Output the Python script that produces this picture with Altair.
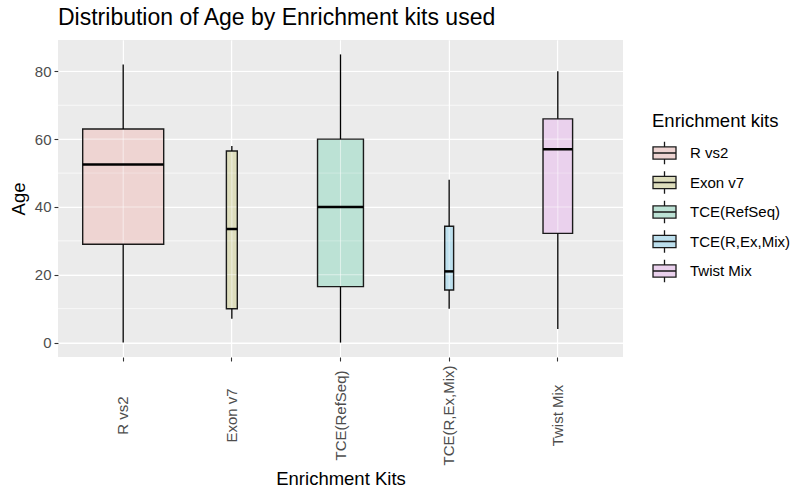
import altair as alt
import pandas as pd

# ---- data ----
kits = ["R vs2", "Exon v7", "TCE(RefSeq)", "TCE(R,Ex,Mix)", "Twist Mix"]
age_min = [0, 7, 0, 10, 4]
age_q1 = [29, 10, 16.5, 15.5, 32.2]
age_median = [52.5, 33.5, 40, 21, 57]
age_q3 = [63, 56.5, 60, 34.3, 66]
age_max = [82, 58, 85, 48, 80]
n_samples = [330, 6, 106, 4, 44]          # box widths ~ sqrt(n) (varwidth)
# ggplot hues #F8766D #A3A500 #00BF7D #00B0F6 #E76BF3 at 20 % alpha on grey92
fill_palette = ["#EED4D2", "#DDDDBC", "#BCE2D5", "#BCDFED", "#EAD1ED"]
major_breaks = [0, 20, 40, 60, 80]
minor_breaks = [10, 30, 50, 70]

df = pd.DataFrame({
    "kit": kits, "lo": age_min, "q1": age_q1, "med": age_median,
    "q3": age_q3, "hi": age_max, "n": n_samples,
})
minor_df = pd.DataFrame({"v": minor_breaks})
major_df = pd.DataFrame({"v": major_breaks})

FONT = "Liberation Sans"
DARK = "#1A1A1A"

x_scale = alt.Scale(domain=kits, paddingInner=0, paddingOuter=0.1)
y_scale = alt.Scale(domain=[-4.25, 89.25], nice=False, zero=False)
size_scale = alt.Scale(type="sqrt", domain=[0, max(n_samples)], range=[0, 81])

x_axis = alt.Axis(
    title="Enrichment Kits", labelAngle=270, labelAlign="center",
    labelBaseline="middle", labelPadding=54, tickSize=4, tickColor="#333333",
    tickWidth=1.1, domain=False, grid=True, gridColor="white", gridWidth=1.1,
    bandPosition=0.5, labelColor="#4D4D4D", labelFontSize=15, labelFont=FONT,
    titleFont=FONT, titleFontSize=18.5, titleColor="black",
    titleFontWeight="normal", titleY=127, titleBaseline="alphabetic",
    labelOverlap=False,
)
y_axis = alt.Axis(
    title="Age", values=major_breaks, tickSize=4, tickColor="#333333",
    tickWidth=1.1, domain=False, grid=True, gridColor="white", gridWidth=1.1,
    labelColor="#4D4D4D", labelFontSize=15, labelFont=FONT, labelPadding=3,
    titleFont=FONT, titleFontSize=18.5, titleColor="black",
    titleFontWeight="normal", titleX=-34, titleBaseline="alphabetic",
)

X = alt.X("kit:N", sort=kits, scale=x_scale, axis=x_axis)
SIZE = alt.Size("n:Q", scale=size_scale, legend=None)

box_path = ("M-1,-0.53H1V0.53H-1Z M-1,0H1 "
            "M0,-0.53V-0.98 M0,0.53V0.98")

minor_grid = alt.Chart(minor_df).mark_rule(color="white", strokeWidth=0.55).encode(
    y=alt.Y("v:Q", scale=y_scale, axis=y_axis)
)

base = alt.Chart(df)

box_fill = base.mark_bar(strokeWidth=0).encode(
    x=X,
    y=alt.Y("q1:Q", scale=y_scale, axis=y_axis),
    y2="q3:Q",
    size=SIZE,
    color=alt.Color(
        "kit:N", sort=kits, scale=alt.Scale(domain=kits, range=fill_palette),
        legend=alt.Legend(
            title="Enrichment kits", orient="none", legendX=594, legendY=72,
            symbolType=box_path, symbolSize=529, symbolStrokeColor=DARK,
            symbolStrokeWidth=1.3, symbolOpacity=1, labelOffset=13,
            rowPadding=0.5, titlePadding=10, titleFontSize=18.5,
            labelFontSize=15, titleFont=FONT, labelFont=FONT,
            titleColor="black", labelColor="black",
            titleFontWeight="normal", padding=0,
        ),
    ),
)

# grid lines seen through the translucent boxes
grid_h_major = alt.Chart(major_df).mark_rule(
    color="white", strokeWidth=1.1, opacity=0.5
).encode(y=alt.Y("v:Q", scale=y_scale, axis=y_axis))
grid_h_minor = alt.Chart(minor_df).mark_rule(
    color="white", strokeWidth=0.55, opacity=0.5
).encode(y=alt.Y("v:Q", scale=y_scale, axis=y_axis))
grid_v = base.mark_rule(color="white", strokeWidth=1.1, opacity=0.5).encode(x=X)

box_outline = base.mark_bar(fillOpacity=0, stroke=DARK, strokeWidth=1.4).encode(
    x=X,
    y=alt.Y("q1:Q", scale=y_scale, axis=y_axis),
    y2="q3:Q",
    size=SIZE,
)

whisker_lo = base.mark_rule(color="black", strokeWidth=1.3).encode(
    x=X, y=alt.Y("lo:Q", scale=y_scale, axis=y_axis), y2="q1:Q"
)
whisker_hi = base.mark_rule(color="black", strokeWidth=1.3).encode(
    x=X, y=alt.Y("q3:Q", scale=y_scale, axis=y_axis), y2="hi:Q"
)

medians = base.mark_tick(color="black", thickness=2.5, opacity=1).encode(
    x=X,
    y=alt.Y("med:Q", scale=y_scale, axis=y_axis),
    size=SIZE,
)

chart = alt.layer(
    minor_grid, box_fill, grid_h_major, grid_h_minor, grid_v,
    box_outline, whisker_lo, whisker_hi, medians
).properties(
    width=565, height=317,
    padding={"left": 58, "top": 40, "right": 167, "bottom": 131},
    autosize=alt.AutoSizeParams(type="none"),
    background="white",
    title=alt.TitleParams(
        "Distribution of Age by Enrichment kits used", anchor="start",
        frame="group",
        fontSize=23, font=FONT, fontWeight="normal", color="black",
        baseline="alphabetic", offset=13, dy=22,
    ),
).configure_view(fill="#EBEBEB", strokeWidth=0)

chart.save("out.html", embed_options={"renderer": "svg", "actions": False})
